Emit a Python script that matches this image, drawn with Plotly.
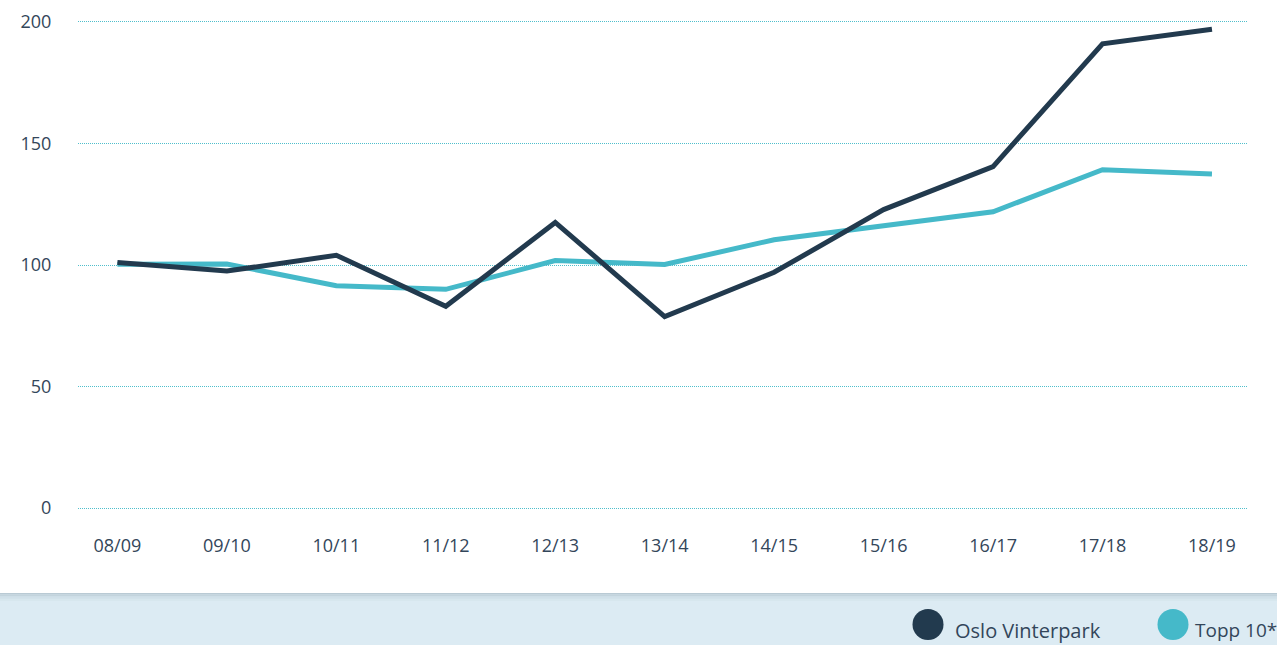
import plotly.graph_objects as go

seasons = ["08/09", "09/10", "10/11", "11/12", "12/13", "13/14",
           "14/15", "15/16", "16/17", "17/18", "18/19"]
oslo_vinterpark = [101, 97.5, 104, 83, 117.5, 78.8, 97, 122.8, 140.5, 191, 197]
topp10 = [100.3, 100.4, 91.5, 90, 101.8, 100.2, 110.4, 116.3, 121.9, 139.2, 137.4]
y_ticks = [0, 50, 100, 150, 200]
series_names = ["Oslo Vinterpark", "Topp 10*"]

DARK = "#223a4e"
TEAL = "#45b9c9"
TEXT = "#33465a"
FONT = "'Open Sans', 'Noto Sans', sans-serif"

W, H = 1277, 645
L, R, T, B = 78, 30, 10, 125
pw, ph = W - L - R, H - T - B


def px(x):  # screen pixel -> paper x
    return (x - L) / pw


def py(y):  # screen pixel -> paper y
    return (H - B - y) / ph


fig = go.Figure()
x_idx = list(range(len(seasons)))
fig.add_trace(go.Scatter(x=x_idx, y=topp10, mode="lines", name=series_names[1],
                         line=dict(color=TEAL, width=5), showlegend=False))
fig.add_trace(go.Scatter(x=x_idx, y=oslo_vinterpark, mode="lines", name=series_names[0],
                         line=dict(color=DARK, width=5), showlegend=False))

shapes = []
# bottom band
shapes.append(dict(type="rect", xref="paper", yref="paper",
                   x0=px(-20), x1=px(1300), y0=py(593), y1=py(660),
                   fillcolor="#dcebf3", line=dict(width=0), layer="below"))
shade = ["#b9cad4", "#c3d4dd", "#cbdbe4", "#d2e2ea", "#d7e7ee"]
for i, c in enumerate(shade):
    shapes.append(dict(type="rect", xref="paper", yref="paper",
                       x0=px(-20), x1=px(1300), y0=py(593 + i * 1.6), y1=py(593 + (i + 1) * 1.6),
                       fillcolor=c, line=dict(width=0), layer="below"))
# legend circles
for cx, col in [(928, DARK), (1173, TEAL)]:
    shapes.append(dict(type="circle", xref="paper", yref="paper",
                       x0=px(cx - 15.5), x1=px(cx + 15.5), y0=py(609), y1=py(640),
                       fillcolor=col, line=dict(width=0)))

annotations = [
    dict(text=series_names[0], xref="paper", yref="paper", x=px(953), y=py(630),
         xanchor="left", yanchor="middle", showarrow=False,
         font=dict(family=FONT, size=20, color=TEXT)),
    dict(text=series_names[1], xref="paper", yref="paper", x=px(1193), y=py(630),
         xanchor="left", yanchor="middle", showarrow=False,
         font=dict(family=FONT, size=19, color=TEXT)),
]

fig.update_layout(
    width=W, height=H,
    margin=dict(l=L, r=R, t=T, b=B),
    paper_bgcolor="white", plot_bgcolor="white",
    font=dict(family=FONT, size=18, color=TEXT),
    shapes=shapes, annotations=annotations,
    showlegend=False,
)
fig.update_xaxes(
    range=[-0.36, 10.32], tickmode="array", tickvals=x_idx, ticktext=seasons,
    showgrid=False, zeroline=False, showline=False,
    ticks="outside", ticklen=9, tickcolor="rgba(0,0,0,0)",
    tickfont=dict(family=FONT, size=18, color=TEXT),
)
fig.update_yaxes(
    range=[-4.9, 204.9], tickmode="array", tickvals=y_ticks,
    showgrid=True, gridcolor="#4fbfcc", griddash="1px,1px", gridwidth=1,
    zeroline=False, showline=False,
    ticks="outside", ticklen=22, tickcolor="rgba(0,0,0,0)",
    tickfont=dict(family=FONT, size=18, color=TEXT),
)

fig.write_html(
    "out.html",
    config={"displayModeBar": False},
    post_script="document.body.style.margin='0';document.body.style.overflow='hidden';",
)
